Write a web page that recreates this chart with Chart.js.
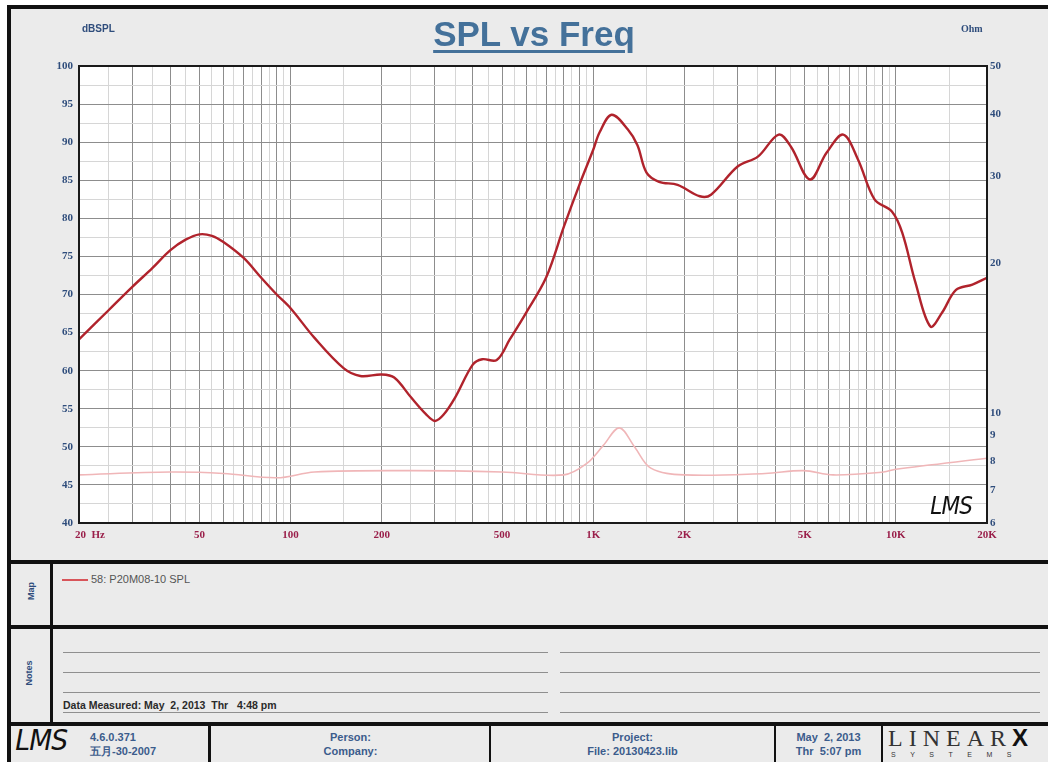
<!DOCTYPE html>
<html>
<head>
<meta charset="utf-8">
<script src="https://cdn.jsdelivr.net/npm/chart.js@4.4.1/dist/chart.umd.min.js"></script>
<style>
  html, body { margin:0; padding:0; }
  body { width:1048px; height:762px; overflow:hidden; position:relative; background:#ffffff; font-family:"Liberation Sans", Arial, sans-serif; }
  .abs { position:absolute; }
  #frame { left:7px; top:5px; width:1060px; height:780px; box-sizing:border-box; border:4px solid #111; background:#ebebeb; }
  .hbar { background:#111; height:4px; left:7px; width:1060px; }
  .vbar { background:#111; width:3px; }
  .nline { background:#8f8f8f; height:1px; }
  .blue { color:#2f4d7c; font-weight:bold; }
  .foot { color:#3b5c8c; font-weight:bold; font-family:"Liberation Sans Narrow","Arial Narrow","Liberation Sans",sans-serif; font-size:11px; line-height:14px; text-align:center; }
  #chartWrap { left:0; top:0; width:1048px; height:560px; }
</style>
</head>
<body>
<div id="frame" class="abs"></div>
<div class="abs hbar" style="top:560px"></div>
<div class="abs hbar" style="top:625px"></div>
<div class="abs hbar" style="top:722px"></div>
<div class="abs vbar" style="left:50px; top:560px; height:164px"></div>
<div class="abs vbar" style="left:208px; top:722px; height:40px"></div>
<div class="abs vbar" style="left:489px; top:722px; height:40px; width:2px"></div>
<div class="abs vbar" style="left:774px; top:722px; height:40px; width:2px"></div>
<div class="abs vbar" style="left:881px; top:722px; height:40px; width:2px"></div>

<div id="chartWrap" class="abs"><canvas id="c" width="1048" height="560"></canvas></div>

<div class="abs" style="left:334px; top:16px; width:400px; text-align:center; font-size:35px; line-height:35px; font-weight:bold; color:#44719a; text-decoration:underline; text-decoration-thickness:3px; text-underline-offset:4px;">SPL vs Freq</div>
<div class="abs blue" style="left:82px; top:23px; font-size:10px;">dBSPL</div>
<div class="abs blue" style="left:961px; top:23px; font-size:10px; font-family:'Liberation Serif',serif;">Ohm</div>
<div class="abs" style="left:928px; top:492px; font-size:24px; font-style:italic; font-family:'DejaVu Sans',sans-serif; font-weight:normal; color:#111; letter-spacing:-1px; transform:scaleX(0.9);">LMS</div>

<!-- Map section -->
<div class="abs blue" style="left:22px; top:586px; font-size:9px; transform:rotate(-90deg); transform-origin:center;">Map</div>
<div class="abs" style="left:62px; top:579px; width:26px; height:2px; background:#d8555a;"></div>
<div class="abs" style="left:91px; top:573px; font-size:11px; color:#555; font-family:'Liberation Sans',Arial,sans-serif;">58: P20M08-10 SPL</div>

<!-- Notes section -->
<div class="abs blue" style="left:16px; top:668px; font-size:9px; transform:rotate(-90deg); transform-origin:center;">Notes</div>
<div class="abs nline" style="left:63px; top:652px; width:485px"></div>
<div class="abs nline" style="left:63px; top:672px; width:485px"></div>
<div class="abs nline" style="left:63px; top:692px; width:485px"></div>
<div class="abs nline" style="left:63px; top:712px; width:485px"></div>
<div class="abs nline" style="left:560px; top:652px; width:480px"></div>
<div class="abs nline" style="left:560px; top:672px; width:480px"></div>
<div class="abs nline" style="left:560px; top:692px; width:480px"></div>
<div class="abs nline" style="left:560px; top:712px; width:480px"></div>
<div class="abs" style="left:63px; top:699px; font-size:10.5px; font-weight:bold; color:#2a2a2a; font-family:'Liberation Sans Narrow','Liberation Sans',sans-serif; white-space:pre;">Data Measured: May  2, 2013  Thr   4:48 pm</div>

<!-- Footer -->
<div class="abs" style="left:14px; top:724px; font-size:28px; font-style:italic; font-family:'DejaVu Sans',sans-serif; color:#111; letter-spacing:-1px; transform:scaleX(0.95);">LMS</div>
<div class="abs foot" style="left:90px; top:730px; text-align:left;">4.6.0.371<br>五月-30-2007</div>
<div class="abs foot" style="left:212px; top:730px; width:277px;">Person:<br>Company:</div>
<div class="abs foot" style="left:491px; top:730px; width:283px;">Project:<br>File: 20130423.lib</div>
<div class="abs foot" style="left:776px; top:730px; width:105px; white-space:pre;">May  2, 2013<br>Thr  5:07 pm</div>
<div class="abs" style="left:888px; top:726px; font-size:24px; line-height:24px; font-family:'Liberation Serif',serif; color:#333; letter-spacing:6px; white-space:nowrap;">LINEAR<span style="font-family:'Liberation Sans',sans-serif; font-weight:900; color:#111; letter-spacing:0;">X</span></div>
<div class="abs" style="left:891px; top:751px; font-size:7px; line-height:8px; font-family:'Liberation Sans',sans-serif; color:#333; letter-spacing:14.5px; white-space:nowrap;">SYSTEMS</div>

<script>
// ---- data ----
const freqSPL = [20,25,30,35,40,45,50,55,60,70,80,90,100,120,150,170,200,220,250,280,300,320,350,400,430,480,530,600,700,800,900,1000,1050,1150,1300,1400,1500,1650,1900,2250,2450,3000,3500,4100,4500,5200,5900,6700,7500,8500,9700,10500,11600,13000,14200,15800,17900,20000];
const splDB   = [64.1,67.9,71.0,73.5,75.8,77.2,77.9,77.7,76.9,74.8,72.2,70.0,68.2,64.3,60.3,59.3,59.5,59.1,56.5,54.3,53.4,54.2,56.5,60.8,61.5,61.4,64.1,67.6,72.3,78.9,84.4,89.0,91.3,93.6,91.7,89.6,86.0,84.8,84.4,82.9,83.1,86.8,88.1,91.0,89.4,85.1,88.6,91.0,87.7,82.5,80.9,78.1,71.6,65.8,67.6,70.6,71.3,72.2];
const freqImp = [20,40,60,90,120,250,500,800,950,1080,1220,1370,1550,2000,3700,4950,6200,9100,10000,20000];
const impOhm  = [7.5,7.6,7.55,7.4,7.6,7.65,7.6,7.5,7.9,8.6,9.33,8.54,7.74,7.5,7.55,7.65,7.5,7.6,7.7,8.1];

const xLabelValues = [20,50,100,200,500,1000,2000,5000,10000,20000];
const xLabelTexts  = ['        20  Hz','50','100','200','500','1K','2K','5K','10K','20K'];
const xGridMultipliers = [1,1.5,2,2.5,3,3.5,4,4.5,5,5.5,6,6.5,7,7.5,8,8.5,9,9.5];
const xDecades = [10,100,1000,10000];
const yTickValues = [40,42.5,45,47.5,50,52.5,55,57.5,60,62.5,65,67.5,70,72.5,75,77.5,80,82.5,85,87.5,90,92.5,95,97.5,100];
const y2TickValues = [6,7,8,9,10,20,30,40,50];

// ---- build tick lists ----
const xGrid = [];
xDecades.forEach(d => xGridMultipliers.forEach(m => {
  const v = Math.round(m * d);
  if (v >= 20 && v <= 20000 && !xGrid.includes(v)) xGrid.push(v);
}));
xGrid.sort((a,b)=>a-b);
const isMajorX = v => { let d = Math.pow(10, Math.floor(Math.log10(v) + 1e-9)); return Math.abs(v / d - Math.round(v / d)) < 1e-6; };

const splData = freqSPL.map((f,i)=>({x:f, y:splDB[i]}));
const impData = freqImp.map((f,i)=>({x:f, y:impOhm[i]}));

const plotFrame = {
  id:'plotFrame',
  beforeDraw(chart){
    const a = chart.chartArea, ctx = chart.ctx;
    ctx.save(); ctx.fillStyle = '#ffffff';
    ctx.fillRect(a.left, a.top, a.right - a.left, a.bottom - a.top);
    ctx.restore();
  },
  afterDraw(chart){
    const a = chart.chartArea, ctx = chart.ctx;
    ctx.save(); ctx.strokeStyle = '#1a1a1a'; ctx.lineWidth = 2;
    ctx.strokeRect(a.left, a.top, a.right - a.left, a.bottom - a.top);
    ctx.restore();
  }
};

const tickFont = {family:"'Liberation Serif', serif", size:11, weight:'bold'};

new Chart(document.getElementById('c'), {
  type:'line',
  data:{
    datasets:[
      {label:'58: P20M08-10 SPL', data:splData, yAxisID:'y', borderColor:'#b0232c', borderWidth:2.4, pointRadius:0, tension:0.35, fill:false},
      {label:'Impedance', data:impData, yAxisID:'y2', borderColor:'#f0b6b8', borderWidth:1.6, pointRadius:0, tension:0.35, fill:false}
    ]
  },
  options:{
    responsive:false, animation:false, devicePixelRatio:1,
    layout:{padding:{top:66, bottom:0, left:0, right:0}},
    plugins:{legend:{display:false}, tooltip:{enabled:false}, title:{display:false}},
    scales:{
      x:{
        type:'logarithmic', min:20, max:20000, position:'bottom',
        afterBuildTicks(s){ s.ticks = xGrid.map(v=>({value:v})); },
        afterFit(s){ s.height = 37; },
        ticks:{autoSkip:false, maxRotation:0, minRotation:0, padding:6, color:'#9a1f4a', font:tickFont,
          callback(v){ const i = xLabelValues.indexOf(Math.round(v)); return i >= 0 ? xLabelTexts[i] : ''; }},
        grid:{drawTicks:false, lineWidth:1, color(ctx){ return (ctx.tick && isMajorX(ctx.tick.value)) ? '#8d8d8d' : '#d6d6d6'; }},
        border:{display:false}
      },
      y:{
        type:'linear', min:40, max:100, position:'left',
        afterBuildTicks(s){ s.ticks = yTickValues.map(v=>({value:v})); },
        afterFit(s){ s.width = 79; },
        ticks:{autoSkip:false, padding:6, color:'#2f4d7c', font:tickFont,
          callback(v){ return (v % 5 === 0) ? String(v) : ''; }},
        grid:{drawTicks:false, lineWidth:1, color(ctx){ return (ctx.tick && ctx.tick.value % 5 === 0) ? '#8d8d8d' : '#d6d6d6'; }},
        border:{display:false}
      },
      y2:{
        type:'logarithmic', min:6, max:50, position:'right',
        afterBuildTicks(s){ s.ticks = y2TickValues.map(v=>({value:v})); },
        afterFit(s){ s.width = 61; },
        ticks:{autoSkip:false, padding:3, color:'#2f4d7c', font:tickFont, callback(v){ return String(v); }},
        grid:{display:false, drawTicks:false},
        border:{display:false}
      }
    }
  },
  plugins:[plotFrame]
});
</script>
</body>
</html>
